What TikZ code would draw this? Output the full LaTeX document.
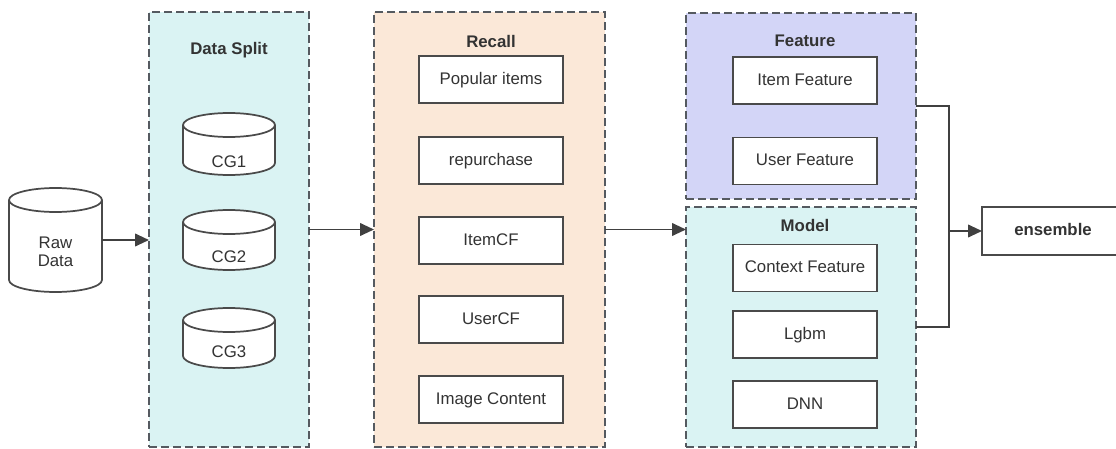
\documentclass[tikz,border=0pt]{standalone}
\usepackage{fontspec}
\setmainfont{Liberation Sans}
\usetikzlibrary{arrows.meta,fit}
\definecolor{cyanbg}{HTML}{DAF3F3}
\definecolor{peachbg}{HTML}{FBE8D8}
\definecolor{lilacbg}{HTML}{D3D5F7}
\definecolor{dashgray}{HTML}{555A60}
\definecolor{boxgray}{HTML}{4A4A4A}
\definecolor{textgray}{HTML}{333333}
\definecolor{linegray}{HTML}{404040}
\tikzset{
  grp/.style={draw=dashgray, line width=1.4pt, dash pattern=on 6pt off 3pt, inner sep=0, outer sep=0},
  box/.style={draw=boxgray, fill=white, line width=1.3pt, minimum width=108pt, minimum height=35.25pt, inner sep=0, outer sep=0, text=textgray, text height=0.72em, text depth=0pt},
  grptitle/.style={font=\fontsize{12.6}{14.5}\selectfont\bfseries, text=textgray},
  lbl/.style={text=textgray, align=center, inner sep=0},
  conn/.style={draw=linegray, line width=1.4pt},
  arr/.style={conn, -{Triangle[length=10.5pt,width=9.5pt]}},
  cylline/.style={draw=boxgray, fill=white, line width=1.3pt},
}
\newcommand\drawcyl[5]{%
  \path (#2,-#3) coordinate (#1-nw) (#4,-#5) coordinate (#1-se);
  \node[fit=(#1-nw)(#1-se), inner sep=0, outer sep=0] (#1) {};
  \filldraw[cylline] (#2,-#3-12) -- (#2,-#5+12)
    arc[start angle=180, end angle=360, x radius={(#4-#2)/2}, y radius=12]
    -- (#4,-#3-12)
    arc[start angle=0, end angle=180, x radius={(#4-#2)/2}, y radius=12] -- cycle;
  \draw[cylline, fill=none] (#2,-#3-12)
    arc[start angle=180, end angle=360, x radius={(#4-#2)/2}, y radius=12];
}
\begin{document}
\begin{tikzpicture}[x=0.75pt,y=0.75pt, font=\fontsize{12.6}{14.5}\selectfont]
\useasboundingbox (0,0) rectangle (1116,-449);

% containers
\node[grp, fill=cyanbg, minimum width=120pt, minimum height=326.25pt] (split) at (229,-229.5) {};
\node[grp, fill=peachbg, minimum width=173.25pt, minimum height=326.25pt] (recall) at (489.5,-229.5) {};
\node[grp, fill=lilacbg, minimum width=172.5pt, minimum height=139.5pt] (feature) at (801,-106) {};
\node[grp, fill=cyanbg, minimum width=172.5pt, minimum height=180pt] (model) at (801,-327) {};

% titles
\node[grptitle] (tsplit) at (229,-50) {Data Split};
\node[grptitle] (trecall) at (491,-41) {Recall};
\node[grptitle] (tfeature) at (805,-41) {Feature};
\node[grptitle] (tmodel) at (805,-225) {Model};

% cylinders
\drawcyl{raw}{9}{188}{102}{292}
\node[lbl] (rawtxt) at (55.5,-252) {Raw\\[-1pt]Data};
\drawcyl{cga}{183}{113}{275}{175}
\node[lbl] (cgatxt) at (229,-162) {CG1};
\drawcyl{cgb}{183}{210}{275}{270}
\node[lbl] (cgbtxt) at (229,-257) {CG2};
\drawcyl{cgc}{183}{308}{275}{368}
\node[lbl] (cgctxt) at (229,-352) {CG3};

% recall boxes
\node[box] (pop) at (491,-79.5) {Popular items};
\node[box] (rep) at (491,-160.5) {repurchase};
\node[box] (icf) at (491,-240.5) {ItemCF};
\node[box] (ucf) at (491,-319.5) {UserCF};
\node[box] (img) at (491,-399.5) {Image Content};

% feature boxes
\node[box] (itf) at (805,-80.5) {Item Feature};
\node[box] (usf) at (805,-161) {User Feature};

% model boxes
\node[box] (ctx) at (805,-268) {Context Feature};
\node[box] (lgb) at (805,-334.5) {Lgbm};
\node[box] (dnn) at (805,-404.5) {DNN};

% ensemble
\node[box, minimum width=106.5pt, minimum height=36pt, font=\fontsize{12.6}{14.5}\selectfont\bfseries] (ens) at (1053,-231) {ensemble};

% connectors
\draw[arr] (raw.east) -- (raw.east -| split.west);
\draw[arr] (split.east) -- (recall.west);
\draw[arr] (recall.east) -- (recall.east -| model.west);
\coordinate (j) at (949,-231);
\draw[conn] (feature.east) -| (j) |- (model.east);
\draw[arr] (j) -- (ens.west);
\end{tikzpicture}
\end{document}
